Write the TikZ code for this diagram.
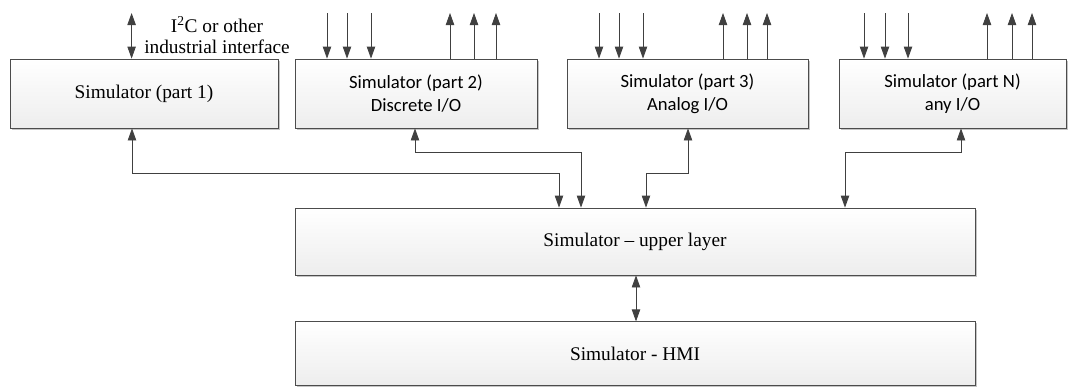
\documentclass[tikz,border=0pt]{standalone}
\usepackage{fontspec}
\setmainfont{Liberation Serif}
\newfontfamily\calibri{Carlito}
\usetikzlibrary{arrows.meta,shadows}

\begin{document}
\begin{tikzpicture}[
                    x=0.75pt, y=-0.75pt,
                    block/.style={rectangle, draw=black!70, top color=white, bottom color=black!7, line width=0.6pt,
                                  drop shadow={shadow xshift=1.2pt, shadow yshift=-1.2pt, fill=black!45, opacity=0.5},
                                  minimum height=51.75pt, inner sep=2pt, align=center,
                                  font=\rmfamily\fontsize{14.5}{17.5}\selectfont},
                    iobox/.style={block, font=\calibri\fontsize{14}{17.5}\selectfont},
                    wire/.style={draw=black!75, line width=0.6pt, -{Triangle[length=9pt,width=6.3pt]}},
                    dwire/.style={wire, {Triangle[length=9pt,width=6.3pt]}-{Triangle[length=9pt,width=6.3pt]}},
                ]
                \useasboundingbox (0,0) rectangle (1070,386);

                % first row
                \node[block, minimum width=201pt] (sim1) at (144,93.5) {Simulator (part 1)};
                \node[iobox, minimum width=181.5pt] (sim2) at (416,93.5) {Simulator (part 2)\\ Discrete I/O};
                \node[iobox, minimum width=180.75pt] (sim3) at (687.5,93.5) {Simulator (part 3)\\ Analog I/O};
                \node[iobox, minimum width=170.25pt] (simN) at (952.5,93.5) {Simulator (part N)\\ any I/O};

                % lower layers
                \node[block, minimum width=510pt, minimum height=50.25pt] (upper) at (635,241.5) {Simulator -- upper layer};
                \node[block, minimum width=510pt, minimum height=47.5pt] (hmi) at (635,353.5) {Simulator - HMI};

                \node[align=center, inner sep=0pt, font=\fontsize{14.5}{16}\selectfont] (iface) at (217,35) {I\textsuperscript{2}C or other\\ industrial interface};

                \coordinate (top) at (0,13);

                % external I/O
                \draw[dwire] (top -| sim1.south west) ++(122,0) coordinate (t1) -- (t1 |- sim1.north);
                \foreach \n/\a/\b/\c/\d/\e/\f in {sim2/327/347/371/450/474/496, sim3/599/619/643/723/747/767, simN/864/885/908/987/1012/1032}{
                    \foreach \i in {\a,\b,\c}
                        \draw[wire] (top -| \i,0) -- (\n.north -| \i,0);
                    \foreach \o in {\d,\e,\f}
                        \draw[wire] (\n.north -| \o,0) -- (top -| \o,0);
                }

                % links to the upper layer
                \draw[dwire] (sim1.south -| 132,0) |- (559,173) -- (upper.north -| 559,0);
                \draw[dwire] (sim2.south -| 415,0) |- (581,152) -- (upper.north -| 581,0);
                \draw[dwire] (sim3.south -| 688,0) |- (646,173) -- (upper.north -| 646,0);
                \draw[dwire] (simN.south -| 961,0) |- (845,152) -- (upper.north -| 845,0);
                \draw[dwire] (upper.south -| 636,0) -- (hmi.north -| 636,0);
            \end{tikzpicture}
\end{document}
